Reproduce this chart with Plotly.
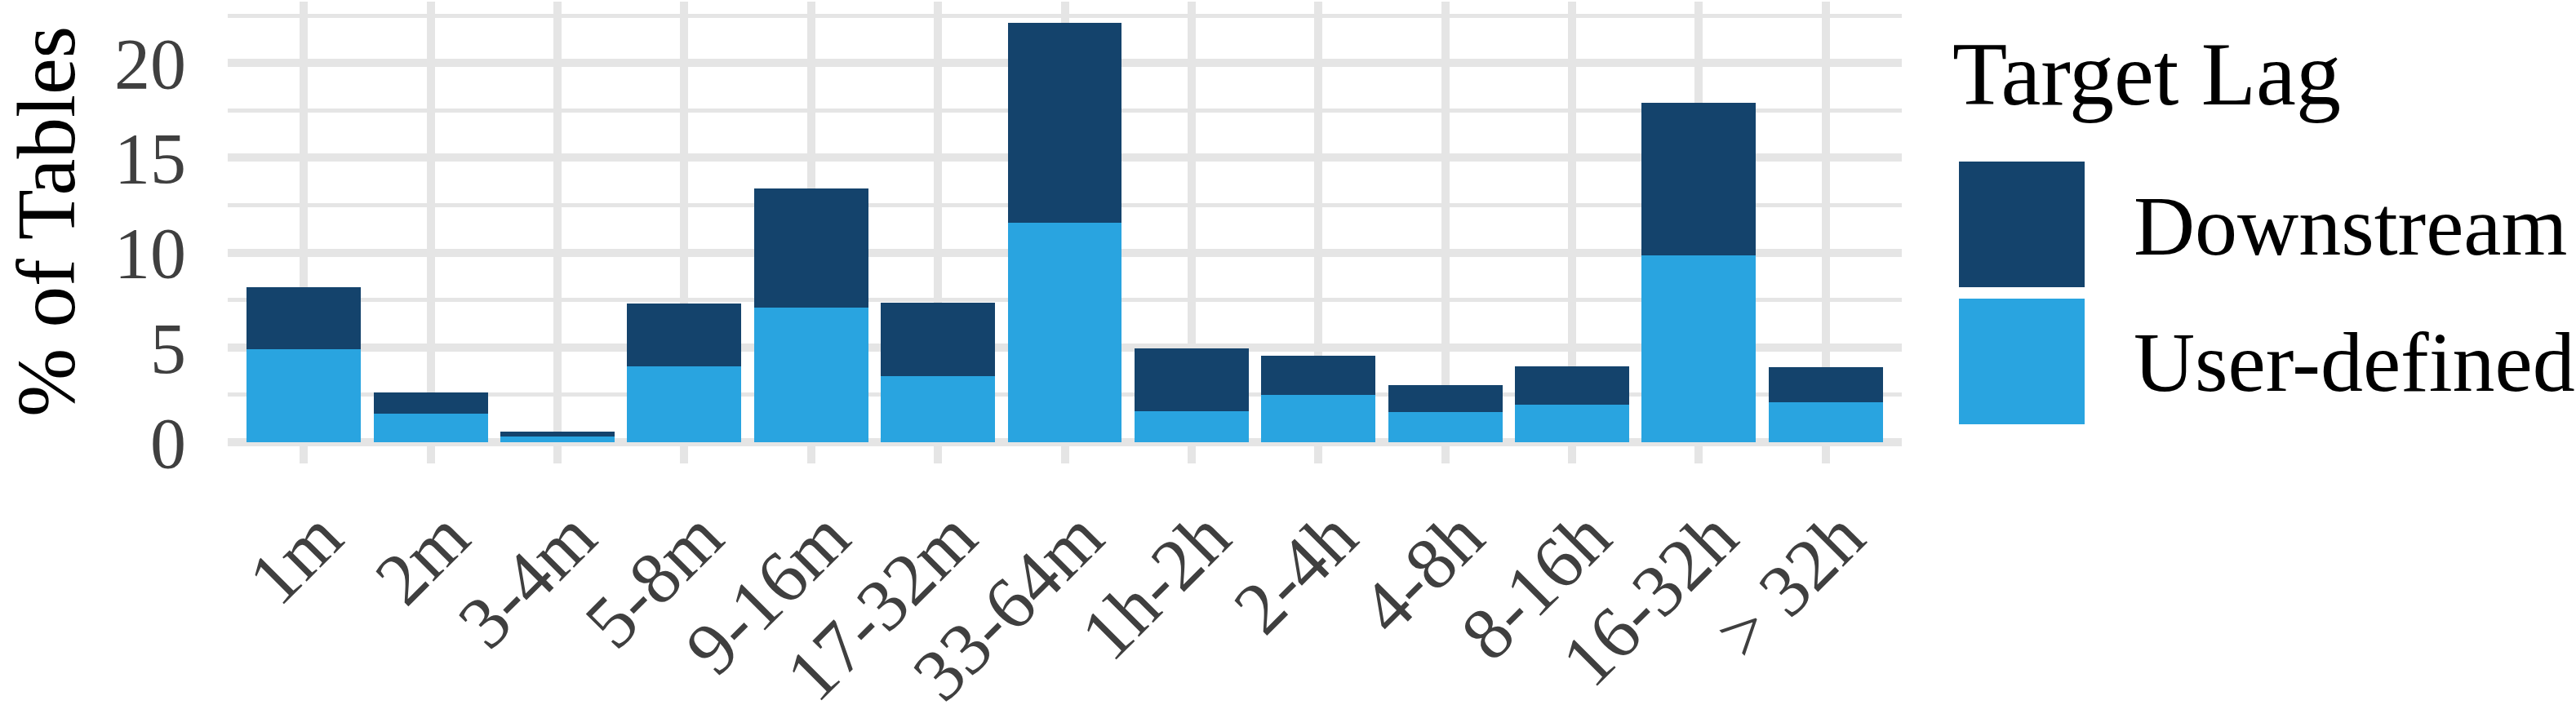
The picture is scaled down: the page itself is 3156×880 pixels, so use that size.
import plotly.graph_objects as go

# ---- data ----
categories = ["1m", "2m", "3-4m", "5-8m", "9-16m", "17-32m", "33-64m",
              "1h-2h", "2-4h", "4-8h", "8-16h", "16-32h", "> 32h"]
user_defined = [4.92, 1.51, 0.28, 4.01, 7.10, 3.49, 11.58, 1.64, 2.50, 1.61, 2.00, 9.86, 2.12]
downstream = [3.25, 1.12, 0.30, 3.29, 6.30, 3.87, 10.55, 3.32, 2.05, 1.42, 1.99, 8.02, 1.86]
y_ticks = [0, 5, 10, 15, 20]
legend_title = "Target Lag"
series_names = ["Downstream", "User-defined"]
y_title = "% of Tables"

# ---- style ----
DARK = "#14436C"
LIGHT = "#29A4E0"
GRID = "#E5E5E5"
TICKTXT = "#3F3F3F"
FONT = "Liberation Serif"

W, H = 3156, 880
L, R, T, B = 279, 2330, 2, 542


def px(x):
    return (x - L) / (R - L)


def py(y):
    return (B - y) / (B - T)


totals = [u + d for u, d in zip(user_defined, downstream)]
ymax = max(totals) * 1.05

fig = go.Figure()
fig.add_trace(go.Bar(x=categories, y=user_defined, name=series_names[1],
                     marker=dict(color=LIGHT, line=dict(width=0)), showlegend=False))
fig.add_trace(go.Bar(x=categories, y=downstream, name=series_names[0],
                     marker=dict(color=DARK, line=dict(width=0)), showlegend=False))

fig.update_layout(
    width=W, height=H,
    barmode="stack", bargap=0.1,
    plot_bgcolor="white", paper_bgcolor="white",
    margin=dict(l=L, r=W - R, t=T, b=H - B, autoexpand=False),
    font=dict(family=FONT),
    showlegend=False,
)

fig.update_xaxes(
    type="category", range=[-0.6, len(categories) - 0.4],
    showgrid=True, gridcolor=GRID, gridwidth=10,
    ticks="outside", ticklen=25, tickwidth=10, tickcolor=GRID,
    tickangle=-45, tickfont=dict(family=FONT, size=91, color=TICKTXT),
    ticklabelshift=20,
    showline=False, zeroline=False, automargin=False,
)
fig.update_yaxes(
    range=[0, ymax], tickvals=y_ticks,
    showgrid=True, gridcolor=GRID, gridwidth=10,
    minor=dict(dtick=2.5, tick0=0, showgrid=True, gridcolor=GRID, gridwidth=5),
    zeroline=True, zerolinecolor=GRID, zerolinewidth=10,
    ticks="", ticklabelstandoff=50,
    tickfont=dict(family=FONT, size=88, color=TICKTXT),
    showline=False, automargin=False,
)

annotations = [
    dict(text=y_title, x=px(57), y=py(272), xref="paper", yref="paper",
         textangle=-90, xanchor="center", yanchor="middle", showarrow=False,
         font=dict(family=FONT, size=101, color="black")),
    dict(text=legend_title, x=px(2390), y=py(91), xref="paper", yref="paper",
         xanchor="left", yanchor="middle", showarrow=False,
         font=dict(family=FONT, size=110, color="black")),
    dict(text=series_names[0], x=px(2612), y=py(276), xref="paper", yref="paper",
         xanchor="left", yanchor="middle", showarrow=False,
         font=dict(family=FONT, size=104, color="black")),
    dict(text=series_names[1], x=px(2612), y=py(443), xref="paper", yref="paper",
         xanchor="left", yanchor="middle", showarrow=False,
         font=dict(family=FONT, size=104, color="black")),
]
shapes = [
    dict(type="rect", xref="paper", yref="paper",
         x0=px(2400), x1=px(2554), y0=py(352), y1=py(198),
         fillcolor=DARK, line=dict(width=0)),
    dict(type="rect", xref="paper", yref="paper",
         x0=px(2400), x1=px(2554), y0=py(520), y1=py(366),
         fillcolor=LIGHT, line=dict(width=0)),
]
fig.update_layout(annotations=annotations, shapes=shapes)

fig.write_html(
    "out.html",
    config={"displayModeBar": False},
    post_script="document.body.style.margin='0px';document.body.style.padding='0px';"
                "document.body.style.overflow='hidden';",
)
